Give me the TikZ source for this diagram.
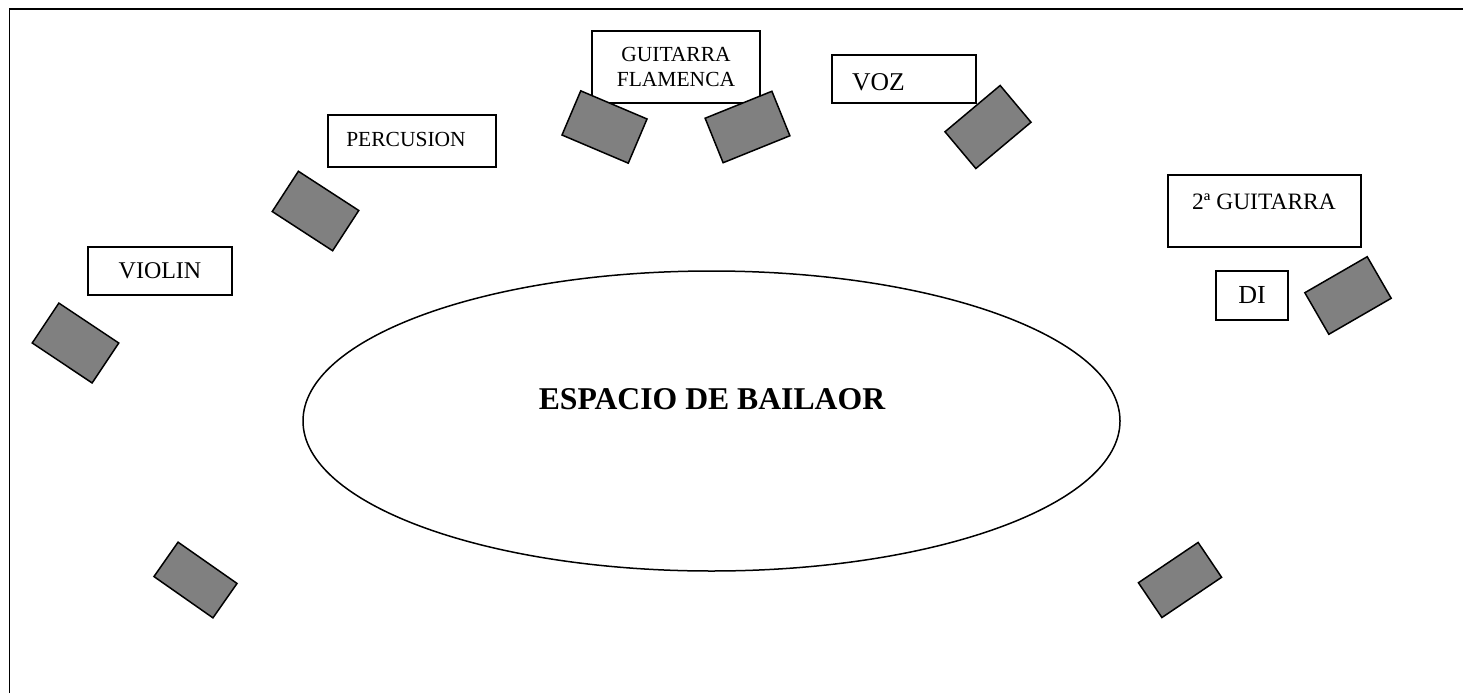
\documentclass[tikz,border=0pt]{standalone}
\usepackage{fontspec}
\setmainfont{Liberation Serif}
\usetikzlibrary{shapes.geometric}

\begin{document}
\begin{tikzpicture}[x=1pt, y=-1pt,
  box/.style={draw, line width=1.4pt, inner sep=0pt},
  monitor/.style={draw, fill=gray, line width=1.5pt, inner sep=0pt, minimum width=72pt, minimum height=48pt}]
\useasboundingbox (0,0) rectangle (1463,693);
\draw[line width=1.6pt] (9.5,693) -- (9.5,9) -- (1463,9);
\path (711.5,421) node[ellipse, draw, line width=1.5pt, inner sep=0pt, minimum width=817pt, minimum height=300pt] (espacio) {};
\path (712,399) node[font=\fontsize{31.7}{36}\selectfont\bfseries] (bailaor) {ESPACIO DE BAILAOR};
\path (160,271) node[box, minimum width=144pt, minimum height=48pt, font=\fontsize{24}{28}\selectfont] (violin) {VIOLIN};
\path (412,141) node[box, minimum width=168pt, minimum height=52pt] (percusion) {};
\path (406,139) node[inner sep=0pt, font=\fontsize{21.5}{25}\selectfont] (percusiontxt) {PERCUSION};
\path (676,67) node[box, minimum width=168pt, minimum height=72pt, align=center, font=\fontsize{21.5}{25}\selectfont] (flamenca) {GUITARRA\\FLAMENCA};
\path (904,79) node[box, minimum width=144pt, minimum height=48pt] (voz) {};
\path (852,82) node[anchor=west, inner sep=0pt, font=\fontsize{25.6}{30}\selectfont] (voztxt) {VOZ};
\path (1264.5,211) node[box, minimum width=193pt, minimum height=72pt] (segunda) {};
\path (1264,202) node[inner sep=0pt, font=\fontsize{23.5}{27}\selectfont] (segundatxt) {2ª GUITARRA};
\path (1252,295.5) node[box, minimum width=72pt, minimum height=49pt, font=\fontsize{26}{30}\selectfont] (di) {DI};
\path (75.5,343) node[monitor, rotate=-33.7] (mviolin) {};
\path (315.5,211) node[monitor, rotate=-33] (mpercusion) {};
\path (604.5,127) node[monitor, rotate=-23] (mflamencaA) {};
\path (747.5,127) node[monitor, rotate=22] (mflamencaB) {};
\path (988,127) node[monitor, rotate=40] (mvoz) {};
\path (1348,295.5) node[monitor, rotate=30] (msegunda) {};
\path (195.5,580) node[monitor, minimum height=42pt, rotate=-35] (msalaA) {};
\path (1180,580) node[monitor, minimum height=42pt, rotate=34] (msalaB) {};
\end{tikzpicture}
\end{document}
